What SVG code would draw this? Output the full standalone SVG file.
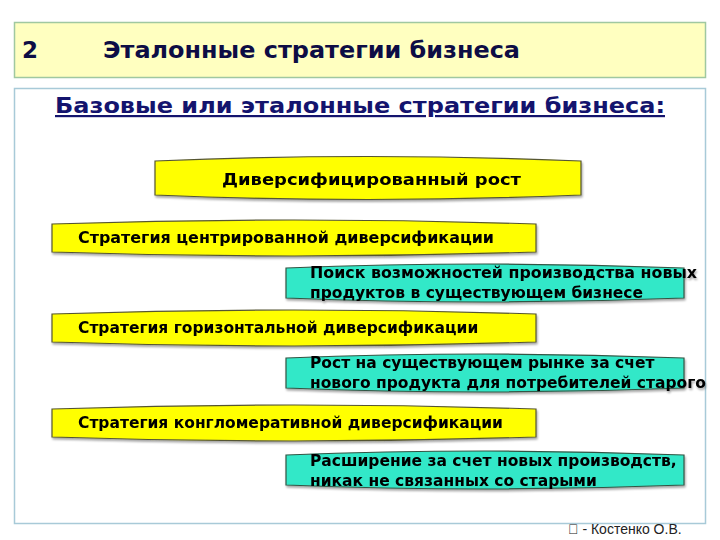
<svg xmlns="http://www.w3.org/2000/svg" width="720" height="540" viewBox="0 0 720 540">
<style>
.t{font-family:"DejaVu Sans",sans-serif;font-weight:bold;fill:#000;font-size:15.5px}
.y{fill:#ffff00;stroke:#555533;stroke-width:1.2}
.c{fill:#33e8c8;stroke:#335544;stroke-width:1.2}
</style>
<defs>
<filter id="sh" x="-5%" y="-20%" width="110%" height="150%"><feDropShadow dx="1" dy="2" stdDeviation="1" flood-color="#000" flood-opacity="0.35"/></filter>
</defs>
<rect width="720" height="540" fill="#fff"/>
<g id="title">
<rect x="14.5" y="22.5" width="691" height="55" fill="#ffffc0" stroke="#a0c8a0" stroke-width="1.5"/>
<text x="22" y="58" font-family="DejaVu Sans,sans-serif" font-weight="bold" font-size="23" fill="#0d0d45">2</text>
<text x="103" y="58" font-family="DejaVu Sans,sans-serif" font-weight="bold" font-size="23" fill="#0d0d45" textLength="417" lengthAdjust="spacingAndGlyphs">Эталонные стратегии бизнеса</text>
</g>
<g id="content">
<rect x="14.5" y="88.5" width="691" height="435" fill="#fff" stroke="#a8cad8" stroke-width="1.5"/>
<text x="55" y="113" font-family="DejaVu Sans,sans-serif" font-weight="bold" font-size="22" fill="#14146e" text-decoration="underline" textLength="610" lengthAdjust="spacingAndGlyphs">Базовые или эталонные стратегии бизнеса:</text>
</g>
<g id="n0" filter="url(#sh)">
<path class="y" d="M155,161 Q368,152 581,161 L581,195 Q368,204 155,195 Z"/>
<text class="t" x="222" y="185" font-size="16" textLength="299" lengthAdjust="spacingAndGlyphs">Диверсифицированный рост</text>
</g>
<g id="n1" filter="url(#sh)">
<path class="y" d="M52,224 Q294,216 536,224 L536,252 Q294,260 52,252 Z"/>
<text class="t" x="78" y="243" textLength="416" lengthAdjust="spacingAndGlyphs">Стратегия центрированной диверсификации</text>
</g>
<g id="d1" filter="url(#sh)">
<path class="c" d="M286,268 Q485,260 684,268 L684,298 Q485,306 286,298 Z"/>
<text class="t" x="310" y="278" textLength="387" lengthAdjust="spacingAndGlyphs">Поиск возможностей производства новых</text>
<text class="t" x="310" y="298">продуктов в существующем бизнесе</text>
</g>
<g id="n2" filter="url(#sh)">
<path class="y" d="M52,314 Q294,306 536,314 L536,342 Q294,350 52,342 Z"/>
<text class="t" x="78" y="333">Стратегия горизонтальной диверсификации</text>
</g>
<g id="d2" filter="url(#sh)">
<path class="c" d="M286,358 Q485,350 684,358 L684,388 Q485,396 286,388 Z"/>
<text class="t" x="310" y="368">Рост на существующем рынке за счет</text>
<text class="t" x="310" y="388">нового продукта для потребителей старого</text>
</g>
<g id="n3" filter="url(#sh)">
<path class="y" d="M52,409 Q294,401 536,409 L536,437 Q294,445 52,437 Z"/>
<text class="t" x="78" y="428">Стратегия конгломеративной диверсификации</text>
</g>
<g id="d3" filter="url(#sh)">
<path class="c" d="M286,455 Q485,447 684,455 L684,485 Q485,493 286,485 Z"/>
<text class="t" x="310" y="466">Расширение за счет новых производств,</text>
<text class="t" x="310" y="486">никак не связанных со старыми</text>
</g>
<g id="connectors"></g>
<text x="568" y="534" font-family="Liberation Sans Narrow,Liberation Sans,sans-serif" font-size="14" fill="#222">&#xF0E3; - Костенко О.В.</text>
</svg>
